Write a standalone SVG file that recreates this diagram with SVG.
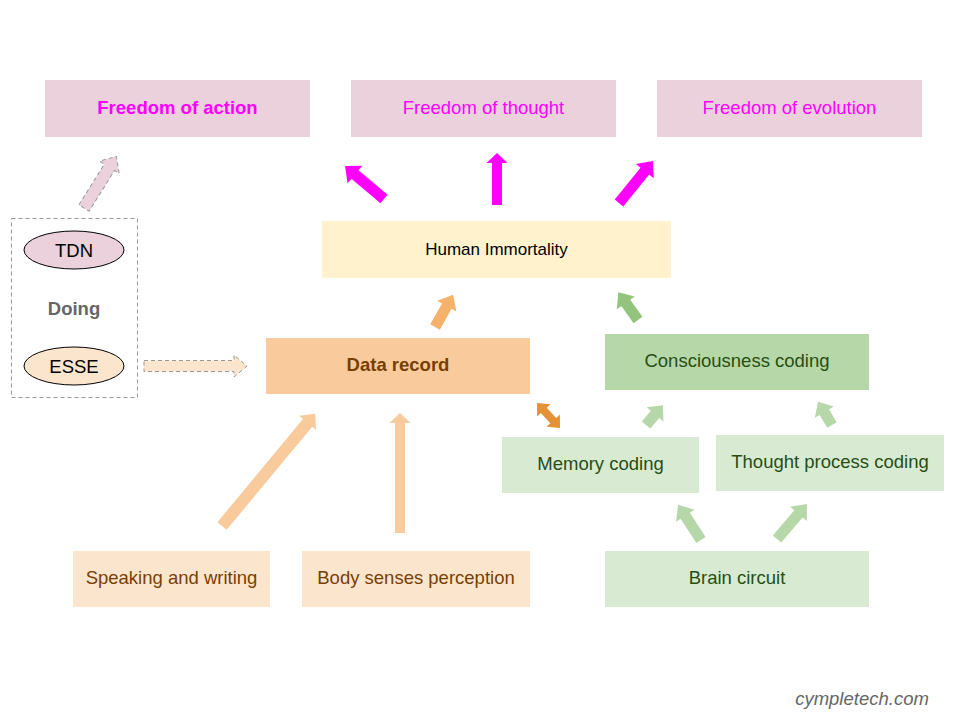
<svg xmlns="http://www.w3.org/2000/svg" width="960" height="720" viewBox="0 0 960 720">
<style>
text{font-family:"Liberation Sans",Arial,sans-serif;font-size:18.5px;text-anchor:middle}
.pink{fill:#ead1dc}
.mag{fill:#ff00ff}
.yel{fill:#fff2cc}
.or{fill:#f9cb9c}
.lor{fill:#fce5cd}
.gr{fill:#b6d7a8}
.lgr{fill:#d9ead3}
.tm{fill:#ff00ff}
.tb{fill:#783f04}
.tg{fill:#274e13}
.bold{font-weight:bold}
.dash{stroke:#999;stroke-width:1;stroke-dasharray:4,3}
</style>
<rect width="960" height="720" fill="#ffffff"/>
<g id="connectors">
<path class="mag" d="M0,-5.5 L38,-5.5 L38,-11.5 L51,0 L38,11.5 L38,5.5 L0,5.5 Z" transform="translate(384,199) rotate(220.2)"/>
<path class="mag" d="M0,-5 L42,-5 L42,-10.5 L52,0 L42,10.5 L42,5 L0,5 Z" transform="translate(497,205) rotate(-90)"/>
<path class="mag" d="M0,-5.5 L41,-5.5 L41,-11.5 L54,0 L41,11.5 L41,5.5 L0,5.5 Z" transform="translate(619,203) rotate(-51)"/>
<path class="pink dash" d="M0,-6 L48,-6 L48,-11.5 L61,0 L48,11.5 L48,6 L0,6 Z" transform="translate(84,208) rotate(-58)"/>
<path class="lor dash" d="M0,-5.5 L90,-5.5 L90,-11 L103,0 L90,11 L90,5.5 L0,5.5 Z" transform="translate(144,366) rotate(0)"/>
<path fill="#f6b26b" d="M0,-5.5 L24,-5.5 L24,-11 L37,0 L24,11 L24,5.5 L0,5.5 Z" transform="translate(435,327) rotate(-60.6)"/>
<path fill="#93c47d" d="M0,-5.5 L21,-5.5 L21,-11 L34,0 L21,11 L21,5.5 L0,5.5 Z" transform="translate(638,320) rotate(-125.5)"/>
<path fill="#e69138" d="M0,0 L10,-9 L10,-4 L24,-4 L24,-9 L34,0 L24,9 L24,4 L10,4 L10,9 Z" transform="translate(537,403) rotate(47.4)"/>
<path class="gr" d="M0,-5.5 L14,-5.5 L14,-11 L26,0 L14,11 L14,5.5 L0,5.5 Z" transform="translate(646,425) rotate(-49.6)"/>
<path class="gr" d="M0,-5.5 L15,-5.5 L15,-11 L27,0 L15,11 L15,5.5 L0,5.5 Z" transform="translate(832,425) rotate(-121)"/>
<path class="gr" d="M0,-5.5 L29,-5.5 L29,-11 L42,0 L29,11 L29,5.5 L0,5.5 Z" transform="translate(701,540) rotate(-123)"/>
<path class="gr" d="M0,-5.5 L33,-5.5 L33,-11 L46,0 L33,11 L33,5.5 L0,5.5 Z" transform="translate(777,539) rotate(-49.4)"/>
<path class="or" d="M0,-6 L134,-6 L134,-11 L146,0 L134,11 L134,6 L0,6 Z" transform="translate(222,526) rotate(-50.3)"/>
<path class="or" d="M0,-5 L110,-5 L110,-10.5 L120,0 L110,10.5 L110,5 L0,5 Z" transform="translate(400,533) rotate(-90)"/>
</g>
<g id="n-freedom-action"><rect class="pink" x="45" y="80" width="265" height="57"/><text class="tm bold" x="177.5" y="114">Freedom of action</text></g>
<g id="n-freedom-thought"><rect class="pink" x="351" y="80" width="265" height="57"/><text class="tm" x="483.5" y="114">Freedom of thought</text></g>
<g id="n-freedom-evolution"><rect class="pink" x="657" y="80" width="265" height="57"/><text class="tm" x="789.5" y="114">Freedom of evolution</text></g>
<g id="n-immortality"><rect class="yel" x="322" y="221" width="349" height="57"/><text x="496.5" y="254.5" style="font-size:17px">Human Immortality</text></g>
<g id="n-doing">
<rect x="11.5" y="218.5" width="126" height="179" fill="none" class="dash"/>
<ellipse cx="74" cy="250" rx="50" ry="19" class="pink" stroke="#000" stroke-width="1"/>
<text x="74" y="256.5">TDN</text>
<text x="74" y="314.5" class="bold" fill="#666666">Doing</text>
<ellipse cx="74" cy="366" rx="50" ry="19" class="lor" stroke="#000" stroke-width="1"/>
<text x="74" y="372.5">ESSE</text>
</g>
<g id="n-data-record"><rect class="or" x="266" y="338" width="264" height="56"/><text class="tb bold" x="398" y="371">Data record</text></g>
<g id="n-consciousness"><rect class="gr" x="605" y="334" width="264" height="56"/><text class="tg" x="737" y="367">Consciousness coding</text></g>
<g id="n-memory"><rect class="lgr" x="502" y="437" width="197" height="56"/><text class="tg" x="600.5" y="470">Memory coding</text></g>
<g id="n-thought"><rect class="lgr" x="716" y="435" width="228" height="56"/><text class="tg" x="830" y="468">Thought process coding</text></g>
<g id="n-brain"><rect class="lgr" x="605" y="551" width="264" height="56"/><text class="tg" x="737" y="584">Brain circuit</text></g>
<g id="n-speaking"><rect class="lor" x="73" y="551" width="197" height="56"/><text class="tb" x="171.5" y="584">Speaking and writing</text></g>
<g id="n-body"><rect class="lor" x="302" y="551" width="228" height="56"/><text class="tb" x="416" y="584">Body senses perception</text></g>
<text x="862" y="705" fill="#666666" style="font-style:italic">cympletech.com</text>
</svg>
